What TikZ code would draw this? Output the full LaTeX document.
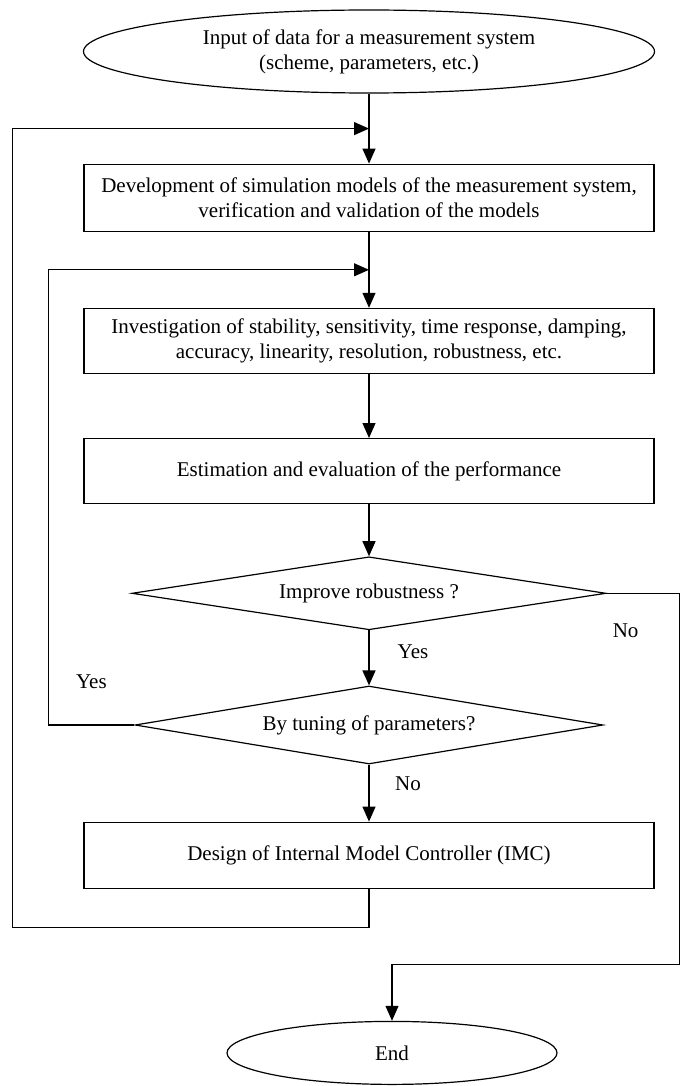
\documentclass[tikz,border=0pt]{standalone}
\usepackage{fontspec}
\setmainfont{Liberation Serif}
\usepackage{tikz}
\usetikzlibrary{arrows.meta,shapes,positioning,calc}
\tikzstyle{arrow} = [line width=1.2pt,-{Triangle[length=15pt,width=13pt]}]
\tikzstyle{procbox} = [rectangle, minimum width=570pt, minimum height=65pt, text centered, align=center, draw, line width=1.2pt, inner sep=0pt]
\tikzstyle{termnode} = [ellipse, draw, line width=1.2pt, text centered, align=center, inner sep=0pt]
\tikzstyle{decision} = [diamond, draw, line width=1.2pt, shape aspect=6.5, inner sep=0pt, text centered]
\tikzstyle{lbl} = [inner sep=0pt, anchor=center]

\begin{document}
\begin{tikzpicture}[font=\fontsize{21}{25}\selectfont]
\useasboundingbox (0pt,0pt) rectangle (680pt,-1086pt);
\node[termnode, minimum width=571pt, minimum height=83pt] (start) at (369pt,-51.5pt) {Input of data for a measurement system\\(scheme, parameters, etc.)};
\node[procbox, below=70pt of start, minimum height=67pt] (devel) {Development of simulation models of the measurement system,\\verification and validation of the models};
\node[procbox, below=76pt of devel] (invest) {Investigation of stability, sensitivity, time response, damping,\\accuracy, linearity, resolution, robustness, etc.};
\node[procbox, below=64pt of invest] (estim) {Estimation and evaluation of the performance};
\node[decision, below=52pt of estim, minimum width=474pt, minimum height=73pt] (robust) {Improve robustness ?};
\node[decision, below=55pt of robust, minimum width=468pt, minimum height=78pt] (tuning) {By tuning of parameters?};
\node[procbox, below=57pt of tuning, minimum height=66pt] (imc) {Design of Internal Model Controller (IMC)};
\node[termnode, below=132pt of imc, xshift=23pt, minimum width=330pt, minimum height=63pt] (finish) {End};

% junctions of the feedback loops
\coordinate (join1) at ($(start.south)!0.5!(devel.north)$);
\coordinate (join2) at ($(devel.south)!0.5!(invest.north)$);

\draw[arrow] (start) -- (devel);
\draw[arrow] (devel) -- (invest);
\draw[arrow] (invest) -- (estim);
\draw[arrow] (estim) -- (robust);
\draw[arrow] (robust) -- node[lbl, pos=0.38, xshift=44pt] {Yes} (tuning);
\draw[arrow] (tuning) -- node[lbl, pos=0.33, xshift=39pt] {No} (imc);

% loops back
\draw[arrow] (tuning.west) -| node[lbl, pos=0.25, yshift=43pt] {Yes} ([xshift=-35pt]invest.west) |- (join2);
\draw[arrow] (imc.south) -- ++(0,-39pt) -| ([xshift=-71pt]devel.west) |- (join1);
\draw[arrow] (robust.east) -| node[lbl, pos=0.551, xshift=-54pt] {No} ++(73pt,-371pt) -| (finish.north);
\end{tikzpicture}
\end{document}
